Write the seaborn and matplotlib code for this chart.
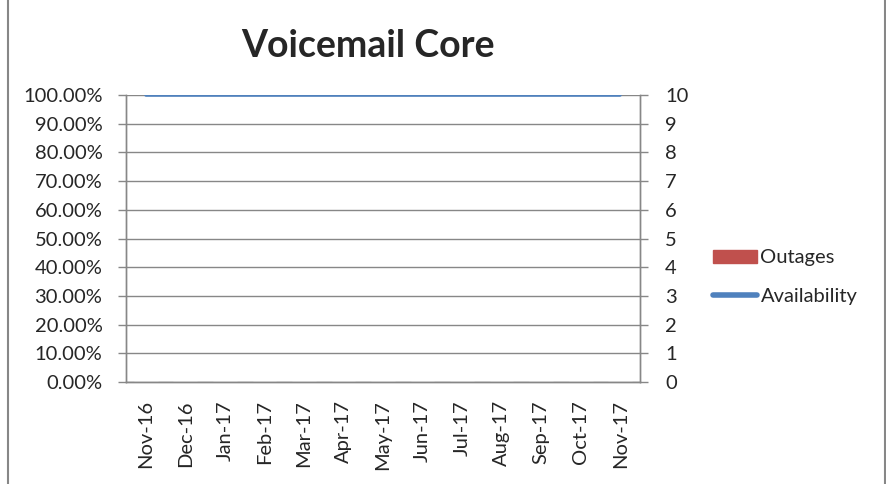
import matplotlib
matplotlib.use("Agg")
import matplotlib.pyplot as plt
import matplotlib.ticker as mticker
from matplotlib.lines import Line2D
from matplotlib.patches import Patch
import seaborn as sns
import pandas as pd
import numpy as np

months = ["Nov-16", "Dec-16", "Jan-17", "Feb-17", "Mar-17", "Apr-17", "May-17",
          "Jun-17", "Jul-17", "Aug-17", "Sep-17", "Oct-17", "Nov-17"]
availability = [1.0] * 13
outages = [0] * 13

df = pd.DataFrame({"month": months, "availability": availability, "outages": outages})

sns.set_style("white")
plt.rcParams["font.family"] = ["Lato", "DejaVu Sans"]

fig = plt.figure(figsize=(8.87, 4.84), dpi=100)
ax = fig.add_axes([126 / 887, 1 - 382 / 484, 514 / 887, 287 / 484])
ax2 = ax.twinx()

red = "#C0504D"
blue = "#4F81BD"
grey = "#878787"
fs = 14.5

sns.barplot(data=df, x="month", y="outages", ax=ax2, color=red, width=0.6)
pos = np.arange(len(months))
sns.lineplot(x=pos, y=df["availability"], ax=ax, color=blue, linewidth=2.6)

ax.set_xlim(-0.5, len(months) - 0.5)
ax.set_ylim(0, 1.0)
ax2.set_ylim(0, 10)
ax.set_yticks(np.linspace(0, 1, 11))
ax.yaxis.set_major_formatter(mticker.FuncFormatter(lambda v, p: f"{v*100:.2f}%"))
ax2.set_yticks(range(0, 11))

ax.set_xticks(pos)
ax.set_xticklabels(months, rotation=90)
ax.set_xticks(np.arange(-0.5, len(months)), minor=True)
ax.tick_params(axis="x", which="major", length=0, pad=13, labelsize=fs)
ax.tick_params(axis="x", which="minor", length=6, color=grey, width=1, direction="out")
ax2.tick_params(axis="x", which="both", length=0)
ax.tick_params(axis="y", length=6, color=grey, width=1, direction="out", pad=11, labelsize=fs)
ax2.tick_params(axis="y", length=6, color=grey, width=1, direction="out", pad=12, labelsize=fs)
ax.set_xlabel("")
ax.set_ylabel("")
ax2.set_xlabel("")
ax2.set_ylabel("")

ax.grid(axis="y", color=grey, linewidth=1)
ax.set_axisbelow(True)
for a in (ax, ax2):
    a.spines["top"].set_visible(False)
    a.spines["left"].set_color(grey)
    a.spines["right"].set_color(grey)
    a.spines["bottom"].set_color(grey)
    for s in a.spines.values():
        s.set_linewidth(1)

fig.text(368 / 887, 1 - 46 / 484, "Voicemail Core", ha="center", va="center",
         fontsize=27, fontweight="bold")

handles = [Patch(facecolor=red, edgecolor=red),
           Line2D([0], [0], color=blue, linewidth=4)]
fig.legend(handles, ["Outages", "Availability"], loc="center left",
           bbox_to_anchor=(695 / 887, 1 - 277 / 484), frameon=False,
           fontsize=fs, handlelength=2.2, handletextpad=0.15, labelspacing=1.05,
           handleheight=0.6)

fig.add_artist(Line2D([8.5 / 887, 8.5 / 887], [0, 1], color=grey, linewidth=1.5))
fig.add_artist(Line2D([885.5 / 887, 885.5 / 887], [0, 1], color=grey, linewidth=1.5))

fig.savefig("out.png", dpi=100)
